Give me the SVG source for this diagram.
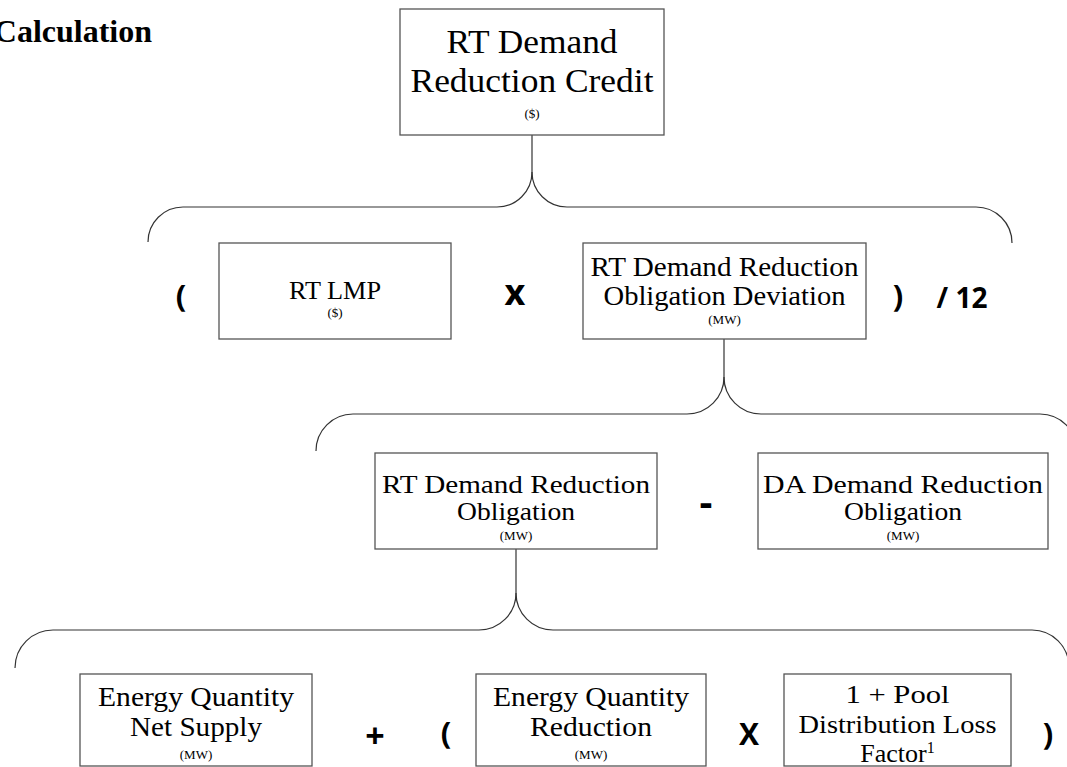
<svg xmlns="http://www.w3.org/2000/svg" width="1067" height="767" viewBox="0 0 1067 767">
<style>
.box{fill:#fff;stroke:#555;stroke-width:1.3}
.t{font-family:"Liberation Serif","Times New Roman",serif;fill:#000;text-anchor:middle}
.title{font-family:"Liberation Serif","Times New Roman",serif;font-weight:700;font-size:32px;fill:#000;text-anchor:end}
.b{font-size:27px}
.u{font-size:13px}
.op{font-family:"Open Sans","DejaVu Sans",sans-serif;font-weight:700;fill:#000;text-anchor:middle}
.c{fill:none;stroke:#333;stroke-width:1.2}
</style>
<rect width="1067" height="767" fill="#fff"/>
<text class="title" x="152" y="42">Calculation</text>
<g id="connectors">
<path class="c" d="M532,135 V172"/>
<path class="c" d="M532,172 A35,35 0 0 1 497,207 H183 A35,35 0 0 0 148,242"/>
<path class="c" d="M532,172 A35,35 0 0 0 567,207 H976 A36,36 0 0 1 1012,243"/>
<path class="c" d="M724,339 V377"/>
<path class="c" d="M724,377 A37,37 0 0 1 687,414 H353 A37,37 0 0 0 316,451"/>
<path class="c" d="M724,377 A37,37 0 0 0 761,414 H1040 A37,37 0 0 1 1077,451"/>
<path class="c" d="M516,549 V593"/>
<path class="c" d="M516,593 A37,37 0 0 1 479,630 H53 A38,38 0 0 0 15,668"/>
<path class="c" d="M516,593 A37,37 0 0 0 553,630 H1032 A37,37 0 0 1 1069,667"/>
</g>
<g id="credit">
<rect class="box" x="400" y="9" width="264" height="126"/>
<text class="t" x="532" y="53" font-size="33" textLength="171" lengthAdjust="spacingAndGlyphs">RT Demand</text>
<text class="t" x="532" y="92" font-size="33" textLength="243" lengthAdjust="spacingAndGlyphs">Reduction Credit</text>
<text class="t u" x="532" y="118">($)</text>
</g>
<g id="ops1">
<text class="op" x="181" y="307" font-size="31">(</text>
<text class="op" x="515" y="305" font-size="36">x</text>
<text class="op" x="898" y="307" font-size="31">)</text>
<text class="op" x="962" y="308" font-size="28">/ 12</text>
</g>
<g id="rtlmp">
<rect class="box" x="219" y="243" width="232" height="96"/>
<text class="t" x="335" y="299" font-size="26" textLength="92" lengthAdjust="spacingAndGlyphs">RT LMP</text>
<text class="t u" x="335" y="317">($)</text>
</g>
<g id="deviation">
<rect class="box" x="583" y="243" width="283" height="96"/>
<text class="t b" x="724.5" y="276" textLength="268" lengthAdjust="spacingAndGlyphs">RT Demand Reduction</text>
<text class="t b" x="724.5" y="305" textLength="242" lengthAdjust="spacingAndGlyphs">Obligation Deviation</text>
<text class="t u" x="724.5" y="324">(MW)</text>
</g>
<g id="rtobligation">
<rect class="box" x="375" y="453" width="282" height="96"/>
<text class="t" x="516" y="493" font-size="26" textLength="268" lengthAdjust="spacingAndGlyphs">RT Demand Reduction</text>
<text class="t" x="516" y="520" font-size="26" textLength="118" lengthAdjust="spacingAndGlyphs">Obligation</text>
<text class="t u" x="516" y="540">(MW)</text>
</g>
<text class="op" x="706" y="516" font-size="40">-</text>
<g id="daobligation">
<rect class="box" x="758" y="453" width="290" height="96"/>
<text class="t" x="903" y="493" font-size="26" textLength="280" lengthAdjust="spacingAndGlyphs">DA Demand Reduction</text>
<text class="t" x="903" y="520" font-size="26" textLength="118" lengthAdjust="spacingAndGlyphs">Obligation</text>
<text class="t u" x="903" y="540">(MW)</text>
</g>
<g id="netsupply">
<rect class="box" x="80" y="674" width="232" height="92"/>
<text class="t b" x="196" y="706" textLength="196" lengthAdjust="spacingAndGlyphs">Energy Quantity</text>
<text class="t b" x="196" y="736" textLength="132" lengthAdjust="spacingAndGlyphs">Net Supply</text>
<text class="t u" x="196" y="759">(MW)</text>
</g>
<g id="ops3">
<text class="op" x="375" y="748" font-size="34">+</text>
<text class="op" x="446" y="744" font-size="31">(</text>
<text class="op" x="749" y="745" font-size="30">X</text>
<text class="op" x="1048" y="745" font-size="31">)</text>
</g>
<g id="reduction">
<rect class="box" x="476" y="674" width="230" height="92"/>
<text class="t b" x="591" y="706" textLength="196" lengthAdjust="spacingAndGlyphs">Energy Quantity</text>
<text class="t b" x="591" y="736" textLength="122" lengthAdjust="spacingAndGlyphs">Reduction</text>
<text class="t u" x="591" y="759">(MW)</text>
</g>
<g id="lossfactor">
<rect class="box" x="784" y="674" width="227" height="92"/>
<text class="t" x="897.5" y="703" font-size="26" textLength="104" lengthAdjust="spacingAndGlyphs">1 + Pool</text>
<text class="t" x="897.5" y="733" font-size="26" textLength="198" lengthAdjust="spacingAndGlyphs">Distribution Loss</text>
<text class="t" x="897.5" y="762" font-size="26">Factor<tspan font-size="16" dy="-9">1</tspan></text>
</g>
</svg>
